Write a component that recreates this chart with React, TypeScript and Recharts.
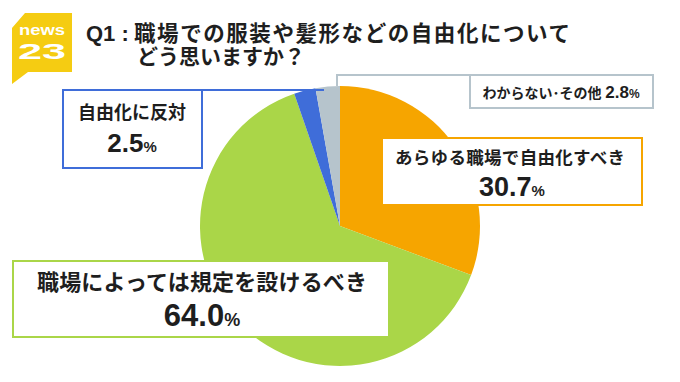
import { Cell, Pie, PieChart } from "recharts";

const categories = ["あらゆる職場で自由化すべき", "職場によっては規定を設けるべき", "自由化に反対", "わからない･その他"];
const shares = [30.7, 64.0, 2.5, 2.8];
const sliceColors = ["#F6A500", "#AAD648", "#3F6DD9", "#B6C4CC"];

const pieData = categories.map((name, i) => ({ name, value: shares[i] }));

const JP = "'Liberation Sans', 'Noto Sans CJK JP', sans-serif";
const ink = "#1e1e1e";

const pct = (v: number) => v.toFixed(1);

const Overlay = () => (
  <svg width={680} height={382} style={{ position: "absolute", left: 0, top: 0 }} fontFamily={JP}>
    {/* logo */}
    <polygon points="25,13 72,13 72,72 28,72 12,84 12,28" fill="#F5CC12" />
    <text x={19} y={35} fill="#fff" fontSize={14} fontWeight="bold" textLength={46} lengthAdjust="spacingAndGlyphs">news</text>
    <text x={18} y={59} fill="#fff" fontSize={22} fontWeight="bold" textLength={48} lengthAdjust="spacingAndGlyphs">23</text>

    {/* title */}
    <text x={86} y={41} fill={ink} fontSize={22} fontWeight="bold">Q1 :</text>
    <text x={134} y={41} fill={ink} fontSize={21.5} fontWeight="bold" textLength={436} lengthAdjust="spacing">職場での服装や髪形などの自由化について</text>
    <text x={137} y={64} fill={ink} fontSize={21} fontWeight="bold" textLength={168} lengthAdjust="spacing">どう思いますか？</text>

    {/* gray: その他 */}
    <polyline points="337,86 337,75 470,75" fill="none" stroke={sliceColors[3]} strokeWidth={2} />
    <rect x={470} y={75} width={183} height={33} fill="#fff" stroke={sliceColors[3]} strokeWidth={2} />
    <text x={561} y={98} textAnchor="middle" fill={ink} fontWeight="bold">
      <tspan fontSize={14}>{categories[3]} </tspan>
      <tspan fontSize={17}>{pct(shares[3])}</tspan>
      <tspan fontSize={12}>%</tspan>
    </text>

    {/* blue: 反対 */}
    <line x1={202} y1={90} x2={324} y2={90} stroke={sliceColors[2]} strokeWidth={2} />
    <rect x={63} y={90} width={139} height={78} fill="#fff" stroke={sliceColors[2]} strokeWidth={2} />
    <text x={132} y={119} textAnchor="middle" fill={ink} fontSize={18} fontWeight="bold">{categories[2]}</text>
    <text x={132} y={152} textAnchor="middle" fill={ink} fontWeight="bold">
      <tspan fontSize={26}>{pct(shares[2])}</tspan>
      <tspan fontSize={15}>%</tspan>
    </text>

    {/* orange: 自由化すべき */}
    <rect x={382} y={138} width={260} height={67} fill="#fff" stroke={sliceColors[0]} strokeWidth={2} />
    <text x={510} y={164} textAnchor="middle" fill={ink} fontSize={17.5} fontWeight="bold" textLength={230} lengthAdjust="spacing">{categories[0]}</text>
    <text x={512} y={196} textAnchor="middle" fill={ink} fontWeight="bold">
      <tspan fontSize={27}>{pct(shares[0])}</tspan>
      <tspan fontSize={15}>%</tspan>
    </text>

    {/* green: 規定を設ける */}
    <rect x={13} y={261} width={376} height={76} fill="#fff" stroke={sliceColors[1]} strokeWidth={2} />
    <text x={202} y={290} textAnchor="middle" fill={ink} fontSize={22} fontWeight="bold" textLength={330} lengthAdjust="spacing">{categories[1]}</text>
    <text x={202} y={326} textAnchor="middle" fill={ink} fontWeight="bold">
      <tspan fontSize={31}>{pct(shares[1])}</tspan>
      <tspan fontSize={18}>%</tspan>
    </text>
  </svg>
);

export default function App() {
  return (
    <div style={{ position: "absolute", left: 0, top: 0, width: 680, height: 382, background: "#fff" }}>
      <PieChart width={680} height={382} margin={{ top: 0, right: 0, bottom: 0, left: 0 }}>
        <Pie
          data={pieData}
          dataKey="value"
          nameKey="name"
          cx={340}
          cy={226}
          outerRadius={140}
          startAngle={90}
          endAngle={-270}
          stroke="none"
          isAnimationActive={false}
        >
          {pieData.map((d, i) => (
            <Cell key={d.name} fill={sliceColors[i]} />
          ))}
        </Pie>
      </PieChart>
      <Overlay />
    </div>
  );
}
